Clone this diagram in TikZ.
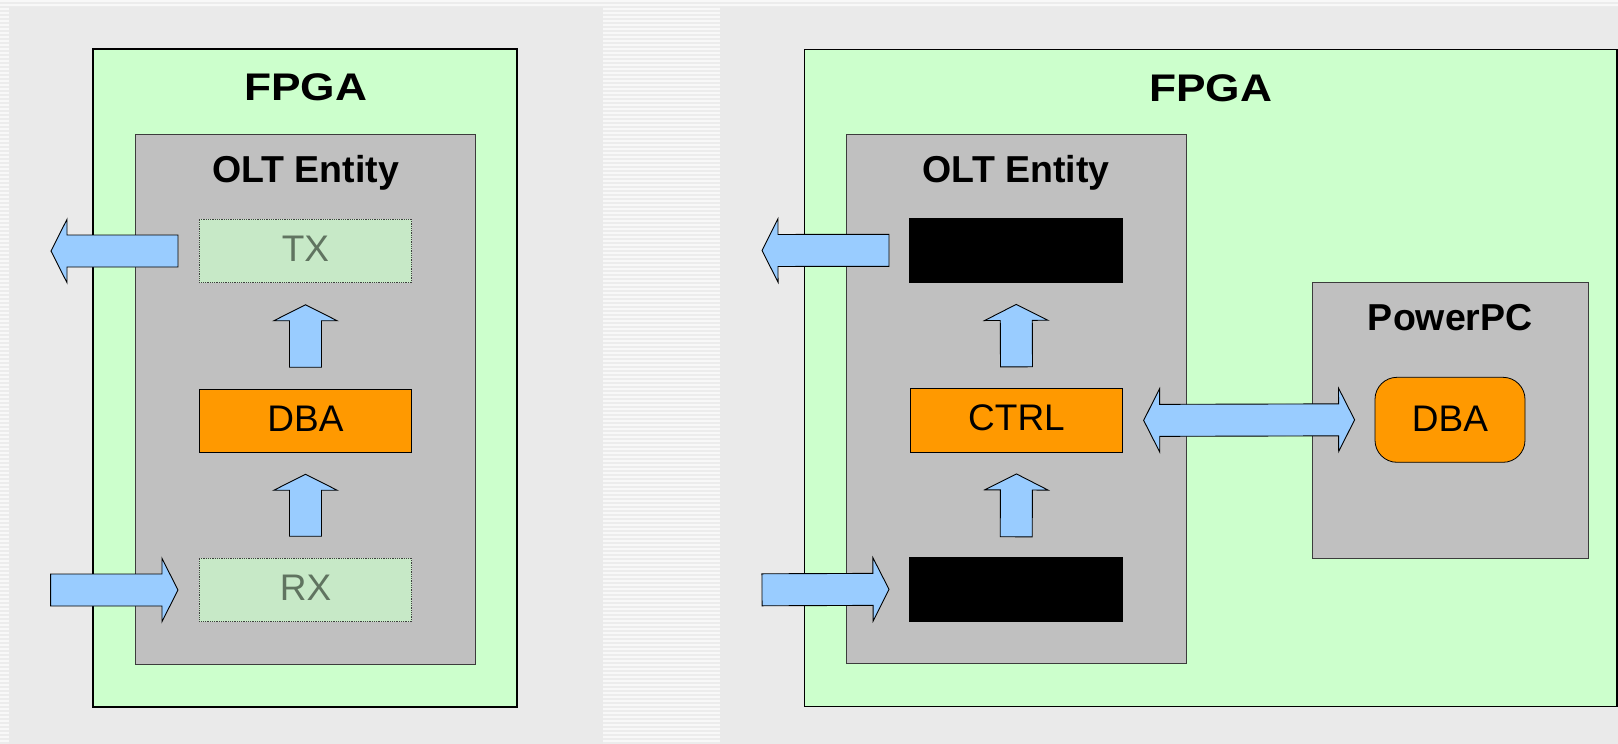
\documentclass[tikz,border=0pt]{standalone}
\usepackage{fontspec}
\usepackage{graphicx}
\setmainfont{Liberation Sans}
\usetikzlibrary{calc}

\definecolor{panel}{HTML}{EAEAEA}
\definecolor{canvasbg}{HTML}{ECECEC}
\definecolor{stripe}{HTML}{F8F8F8}
\definecolor{fpgagreen}{HTML}{CCFFCC}
\definecolor{oltgray}{HTML}{C0C0C0}
\definecolor{oltborder}{HTML}{3C3C3C}
\definecolor{arrowblue}{HTML}{99CCFF}
\definecolor{dbaorange}{HTML}{FF9900}
\definecolor{iofill}{RGB}{199,233,199}
\definecolor{iotext}{RGB}{96,116,96}

\tikzset{
  every node/.style={inner sep=0pt, font=\fontsize{37}{44}\selectfont},
  fpgabox/.style={draw=black, line width=1.2pt, fill=fpgagreen},
  oltbox/.style={draw=oltborder, line width=1pt, fill=oltgray,
    minimum width=339.7pt, minimum height=529.5pt},
  blockbox/.style={minimum width=212.3pt, minimum height=63.7pt, text depth=5pt},
  iobox/.style={blockbox, draw=black!75, densely dotted, line width=0.8pt,
    fill=iofill, text=iotext},
  hidden/.style={blockbox, fill=black},
  logicbox/.style={blockbox, draw=black, line width=0.8pt, fill=dbaorange},
  cpubox/.style={draw=oltborder, line width=1pt, fill=oltgray,
    minimum width=275.8pt, minimum height=275.7pt},
  title/.style={anchor=base, font=\bfseries\fontsize{38.5}{46}\selectfont},
  subtitle/.style={anchor=base, font=\bfseries\fontsize{37.5}{44}\selectfont},
  % block arrow from start to tip
  fatarrow/.style={fill=arrowblue, draw=black, line width=0.9pt, line join=miter,
    to path={
      ($(\tikztostart)!16pt!90:(\tikztotarget)$)
      -- ($($(\tikztotarget)!16pt!(\tikztostart)$)!16pt!90:(\tikztotarget)$)
      -- ($($(\tikztotarget)!16pt!(\tikztostart)$)!31.7pt!90:(\tikztotarget)$)
      -- (\tikztotarget)
      -- ($($(\tikztotarget)!16pt!(\tikztostart)$)!31.7pt!-90:(\tikztotarget)$)
      -- ($($(\tikztotarget)!16pt!(\tikztostart)$)!16pt!-90:(\tikztotarget)$)
      -- ($(\tikztostart)!16pt!-90:(\tikztotarget)$)
      -- cycle}},
  % block arrow with a head at both ends
  fatdouble/.style={fill=arrowblue, draw=black, line width=0.9pt, line join=miter,
    to path={
      (\tikztostart)
      -- ($($(\tikztostart)!16pt!(\tikztotarget)$)!31.7pt!90:(\tikztotarget)$)
      -- ($($(\tikztostart)!16pt!(\tikztotarget)$)!16pt!90:(\tikztotarget)$)
      -- ($($(\tikztotarget)!16pt!(\tikztostart)$)!16pt!90:(\tikztotarget)$)
      -- ($($(\tikztotarget)!16pt!(\tikztostart)$)!31.7pt!90:(\tikztotarget)$)
      -- (\tikztotarget)
      -- ($($(\tikztotarget)!16pt!(\tikztostart)$)!31.7pt!-90:(\tikztotarget)$)
      -- ($($(\tikztotarget)!16pt!(\tikztostart)$)!16pt!-90:(\tikztotarget)$)
      -- ($($(\tikztostart)!16pt!(\tikztotarget)$)!16pt!-90:(\tikztotarget)$)
      -- ($($(\tikztostart)!16pt!(\tikztotarget)$)!31.7pt!-90:(\tikztotarget)$)
      -- cycle}},
}

\begin{document}
\begin{tikzpicture}[x=1pt, y=-1pt]
\useasboundingbox (0,0) rectangle (1618,744);

% striped backdrop and the two slide panels
\fill[canvasbg] (0,0) rectangle (1618,744);
\foreach \yy in {1,5,...,743}
  \draw[stripe, line width=1.6pt] (0,\yy) -- (1618,\yy);
\fill[panel] (9,7) rectangle (603,744);
\fill[panel] (720,7) rectangle (1618,744);

% ---------- left: DBA inside the FPGA logic ----------
\node[fpgabox, minimum width=424pt, minimum height=658pt] (fpgaL) at (305,378) {};
\node[title] (fpgaLlbl) at ($(fpgaL.north)+(0.5,52.5)$) {\scalebox{1.15}[1]{FPGA}};
\node[oltbox] (oltL) at (305.5,399.5) {};
\node[subtitle] (oltLlbl) at ($(oltL.north)+(0,48.5)$) {OLT Entity};

\node[iobox] (txL) at (305.5,251) {TX};
\node[logicbox] (dbaL) at (305.5,421) {DBA};
\node[iobox] (rxL) at (305.5,590) {RX};

\coordinate (txLs) at ($(txL.west)+(-21,0)$);
\coordinate (txLout) at (51,251);
\coordinate (rxLin) at (50.6,590);
\coordinate (rxLe) at ($(rxL.west)+(-21,0)$);
\coordinate (upL1s) at ($(dbaL.north)+(0,-21.5)$);
\coordinate (upL1e) at ($(txL.south)+(0,21.5)$);
\coordinate (upL2s) at ($(rxL.north)+(0,-21.5)$);
\coordinate (upL2e) at ($(dbaL.south)+(0,21)$);

\draw[fatarrow] (txLs) to (txLout);
\draw[fatarrow] (rxLin) to (rxLe);
\draw[fatarrow] (upL1s) to (upL1e);
\draw[fatarrow] (upL2s) to (upL2e);

% ---------- right: DBA moved to the PowerPC ----------
\node[fpgabox, minimum width=812.8pt, minimum height=657.2pt] (fpgaR) at (1210.6,377.9) {};
\node[title] (fpgaRlbl) at (1210.5,101.5) {\scalebox{1.15}[1]{FPGA}};
\node[oltbox] (oltR) at (1016.2,399) {};
\node[subtitle] (oltRlbl) at ($(oltR.north)+(0,48.5)$) {OLT Entity};

\node[hidden, minimum width=214pt, minimum height=65pt] (txR) at (1016.2,250.3) {};
\node[logicbox] (ctrl) at (1016.5,420.4) {CTRL};
\node[hidden, minimum width=214pt, minimum height=64.6pt] (rxR) at (1016.2,589.3) {};

\node[cpubox] (ppc) at (1450.3,420.2) {};
\node[subtitle] (ppclbl) at ($(ppc.north)+(0,48.4)$) {PowerPC};
\node[logicbox, rounded corners=22pt, minimum width=150pt, minimum height=85pt,
  text depth=3pt] (dbaR) at (1450,419.8) {DBA};

\coordinate (txRs) at ($(txR.west)+(-20,0)$);
\coordinate (txRout) at (762,250.5);
\coordinate (rxRin) at (762,589.8);
\coordinate (rxRe) at ($(rxR.west)+(-20,0)$);
\coordinate (upR1s) at ($(ctrl.north)+(0,-21.3)$);
\coordinate (upR1e) at ($(txR.south)+(0,21.4)$);
\coordinate (upR2s) at ($(rxR.north)+(0,-20)$);
\coordinate (upR2e) at ($(ctrl.south)+(0,21.3)$);
\coordinate (linkA) at ($(ctrl.east)+(20.6,0)$);
\coordinate (linkB) at ($(dbaR.west)+(-20,0)$);

\draw[fatarrow] (txRs) to (txRout);
\draw[fatarrow] (rxRin) to (rxRe);
\draw[fatarrow] (upR1s) to (upR1e);
\draw[fatarrow] (upR2s) to (upR2e);
\draw[fatdouble] (linkA) to (linkB);

\end{tikzpicture}
\end{document}
